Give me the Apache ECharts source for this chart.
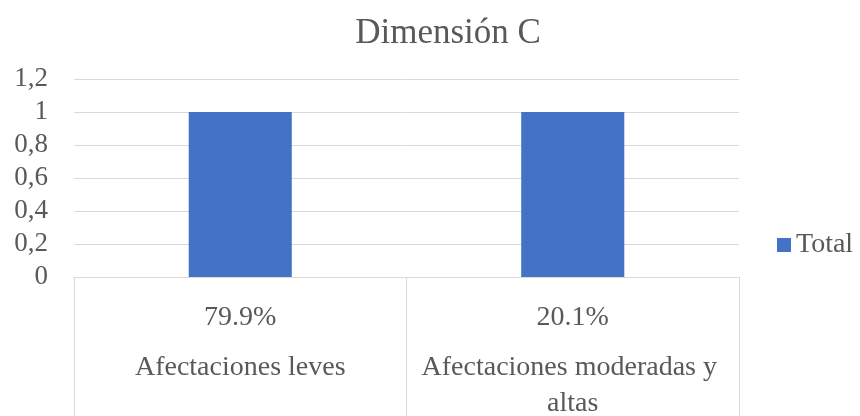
<!DOCTYPE html>
<html><head><meta charset="utf-8">
<script src="https://cdn.jsdelivr.net/npm/echarts@6/dist/echarts.min.js"></script>
<style>html,body{margin:0;padding:0;background:#fff}#c{width:860px;height:416px}</style>
</head><body><div id="c"></div>
<script>
const categories = ["Afectaciones leves", "Afectaciones moderadas y altas"];
const percentLabels = ["79.9%", "20.1%"];
const totalValues = [1, 1];
const yTicks = [0, 0.2, 0.4, 0.6, 0.8, 1, 1.2];

const font = "Liberation Serif";
const txt = "#595959";
const chart = echarts.init(document.getElementById('c'));
chart.setOption({
  animation: false,
  title: { text: "Dimensión C", left: 443, top: 11, textAlign: 'center',
    textStyle: { fontFamily: font, fontSize: 35, fontWeight: 'normal', color: txt } },
  legend: { data: ["Total"], orient: 'vertical', left: 772, top: 226, itemWidth: 14, itemHeight: 14, itemGap: 6,
    icon: 'rect', textStyle: { fontFamily: font, fontSize: 28, color: txt } },
  grid: { left: 74, right: 121, top: 79, bottom: 139, containLabel: false, outerBoundsMode: 'none' },
  xAxis: [
    { type: 'category', data: percentLabels, position: 'bottom',
      axisLine: { show: true, lineStyle: { color: '#d9d9d9', width: 1 } },
      axisTick: { show: true, alignWithLabel: false, interval: 0, length: 145, lineStyle: { color: '#d9d9d9' } },
      axisLabel: { margin: 27, fontFamily: font, fontSize: 28, color: txt } },
    { type: 'category', data: categories, position: 'bottom',
      axisLine: { show: false }, axisTick: { show: false },
      axisLabel: { margin: 73, fontFamily: font, fontSize: 28, color: txt, width: 322, overflow: 'break', lineHeight: 36, interval: 0 } }
  ],
  yAxis: { type: 'value', min: 0, max: 1.2, interval: 0.2,
    axisLine: { show: false }, axisTick: { show: false },
    splitLine: { lineStyle: { color: '#d9d9d9', width: 1 } },
    axisLabel: { margin: 26, fontFamily: font, fontSize: 27, color: txt,
      formatter: v => String(Math.round(v * 10) / 10).replace('.', ',') } },
  series: [{ name: "Total", type: 'bar', xAxisIndex: 0, data: totalValues, barWidth: '31%',
    itemStyle: { color: '#4472c4' } }]
});
</script></body></html>
